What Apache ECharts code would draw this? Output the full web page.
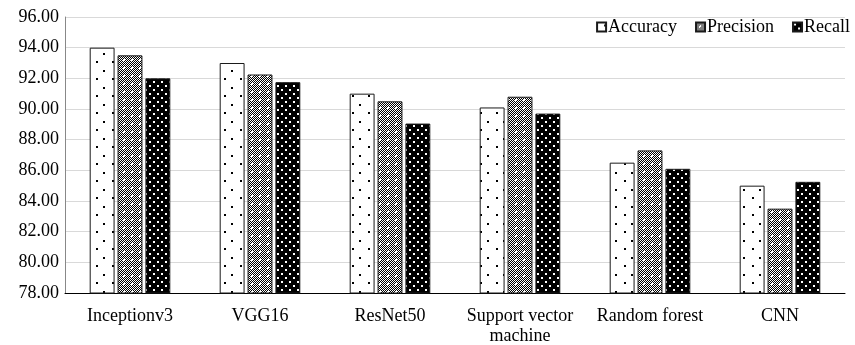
<!DOCTYPE html>
<html>
<head>
<meta charset="utf-8">
<script src="https://cdn.jsdelivr.net/npm/echarts@6/dist/echarts.min.js"></script>
<style>
  html, body { margin: 0; padding: 0; background: #fff; }
  #chart { width: 855px; height: 345px; }
</style>
</head>
<body>
<div id="chart"></div>
<script>
const categories = ['Inceptionv3', 'VGG16', 'ResNet50', 'Support vector\nmachine', 'Random forest', 'CNN']
const accuracy = [94.0, 93.0, 91.0, 90.1, 86.5, 85.0]
const precision = [93.5, 92.25, 90.5, 90.8, 87.3, 83.5]
const recall = [92.0, 91.75, 89.05, 89.7, 86.1, 85.25]

// small tiles used as fill patterns
function tile(w, h, bg, fg, rects, paint) {
  const c = document.createElement('canvas')
  c.width = w
  c.height = h
  const ctx = c.getContext('2d')
  ctx.fillStyle = bg
  ctx.fillRect(0, 0, w, h)
  if (paint) paint(ctx)
  ctx.fillStyle = fg
  rects.forEach(d => ctx.fillRect(d[0], d[1], d[2], d[3]))
  return { image: c, repeat: 'repeat' }
}

const sparseDots = tile(16, 17, '#ffffff', '#000000', [[7, 2, 2, 2], [0, 10, 2, 2]])
// checker with white spots
const checker = tile(8, 8, '#ffffff', '#ffffff', [[3, 3, 2, 2], [0, 0, 1, 1]], ctx => {
  ctx.fillStyle = '#000'
  for (let y = 0; y < 8; y++) {
    for (let x = 0; x < 8; x++) {
      if ((x + y) % 2 === 1) ctx.fillRect(x, y, 1, 1)
    }
  }
})
const blackDots = tile(8, 8, '#000000', '#ffffff', [[1, 1, 2, 2], [5, 5, 2, 2]])

const font = 'Liberation Serif'

function bar(name, data, fill) {
  return {
    name,
    type: 'bar',
    data,
    barGap: '12%',
    barCategoryGap: '38%',
    itemStyle: { color: fill, borderColor: '#1a1a1a', borderWidth: 1 }
  }
}

const chart = echarts.init(document.getElementById('chart'))
chart.setOption({
  animation: false,
  textStyle: { fontFamily: font },
  legend: {
    top: 13,
    right: 0,
    icon: 'rect',
    itemWidth: 9,
    itemHeight: 9,
    itemGap: 18,
    textStyle: { fontFamily: font, fontSize: 18, color: '#000', padding: [0, 0, 0, -3] },
    data: ['Accuracy', 'Precision', 'Recall']
  },
  grid: { left: 65, right: 10, top: 17, bottom: 52, outerBoundsMode: 'none', containLabel: false },
  xAxis: {
    type: 'category',
    data: categories,
    axisLine: { lineStyle: { color: '#000', width: 1 } },
    axisTick: { show: false },
    axisLabel: { color: '#000', fontSize: 18, fontFamily: font, margin: 13, lineHeight: 20, interval: 0 }
  },
  yAxis: {
    type: 'value',
    min: 78,
    max: 96,
    interval: 2,
    axisLine: { show: true, lineStyle: { color: '#888' } },
    axisTick: { show: false },
    axisLabel: {
      color: '#000', fontSize: 18, fontFamily: font, margin: 6,
      formatter: v => v.toFixed(2)
    },
    splitLine: { lineStyle: { color: '#d9d9d9' } }
  },
  series: [
    bar('Accuracy', accuracy, sparseDots),
    bar('Precision', precision, checker),
    bar('Recall', recall, blackDots)
  ]
})
</script>
</body>
</html>
